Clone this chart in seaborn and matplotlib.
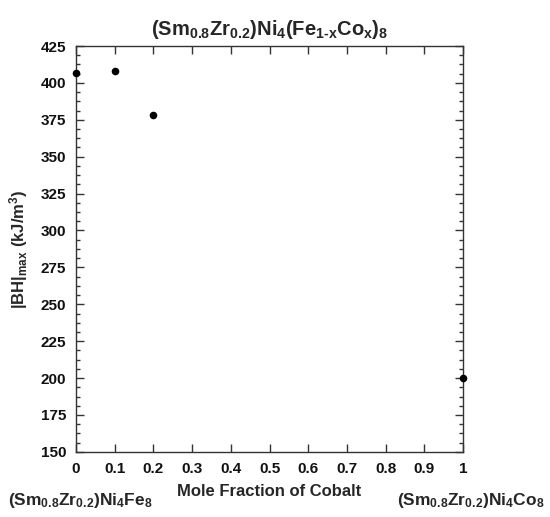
import matplotlib
matplotlib.use("Agg")
import matplotlib.pyplot as plt
import seaborn as sns
import pandas as pd
from matplotlib.ticker import MultipleLocator, AutoMinorLocator, NullLocator

x_cobalt = [0.0, 0.1, 0.2, 1.0]
bh_max = [407, 408, 378, 200]
x_ticks = [0, 0.1, 0.2, 0.3, 0.4, 0.5, 0.6, 0.7, 0.8, 0.9, 1]
x_tick_labels = ["0", "0.1", "0.2", "0.3", "0.4", "0.5", "0.6", "0.7", "0.8", "0.9", "1"]

sns.set_theme(style="ticks")
plt.rcParams['font.family'] = ['Liberation Sans', 'DejaVu Sans']
plt.rcParams['font.weight'] = 'bold'
plt.rcParams['mathtext.fontset'] = 'custom'
plt.rcParams['mathtext.rm'] = 'Liberation Sans:bold'
plt.rcParams['mathtext.it'] = 'Liberation Sans:bold'
plt.rcParams['mathtext.bf'] = 'Liberation Sans:bold'
plt.rcParams['mathtext.default'] = 'rm'

df = pd.DataFrame({"x": x_cobalt, "y": bh_max})

fig = plt.figure(figsize=(5.5, 5.17), dpi=100)
ax = fig.add_axes([0.138, 0.126, 0.704, 0.785])
sns.scatterplot(data=df, x="x", y="y", ax=ax, color="black", s=30,
                edgecolor="black", linewidth=0, clip_on=False, zorder=5)

ax.set_xlim(0, 1)
ax.set_ylim(150, 425)
ax.set_xticks(x_ticks)
ax.set_xticklabels(x_tick_labels)
ax.xaxis.set_minor_locator(NullLocator())
ax.yaxis.set_major_locator(MultipleLocator(25))
ax.yaxis.set_minor_locator(AutoMinorLocator(4))
ax.tick_params(which='both', direction='in', top=True, right=True, color='#333333', width=1)
ax.tick_params(which='major', length=6, labelsize=11, pad=7)
ax.tick_params(which='minor', length=3)
for s in ax.spines.values():
    s.set_color('#333333')
    s.set_linewidth(1)
for lab in ax.get_xticklabels() + ax.get_yticklabels():
    lab.set_fontweight('bold')
    lab.set_color('#111111')

ax.set_xlabel("")
ax.set_ylabel(r"$|\mathrm{BH}|_{\mathrm{max}}\ (\mathrm{kJ/m}^3)$", fontsize=12, labelpad=8)
ax.set_title(r"$(\mathrm{Sm}_{0.8}\mathrm{Zr}_{0.2})\mathrm{Ni}_4(\mathrm{Fe}_{1\text{-}x}\mathrm{Co}_x)_8$",
             fontsize=14.5, pad=8)

fig.text(0.49, 0.05, "Mole Fraction of Cobalt", ha='center', va='center', fontsize=12, fontweight='bold')
fig.text(0.015, 0.032, r"$(\mathrm{Sm}_{0.8}\mathrm{Zr}_{0.2})\mathrm{Ni}_4\mathrm{Fe}_8$",
         ha='left', va='center', fontsize=12.5)
fig.text(0.99, 0.032, r"$(\mathrm{Sm}_{0.8}\mathrm{Zr}_{0.2})\mathrm{Ni}_4\mathrm{Co}_8$",
         ha='right', va='center', fontsize=12.5)

fig.savefig("out.png", dpi=100)
